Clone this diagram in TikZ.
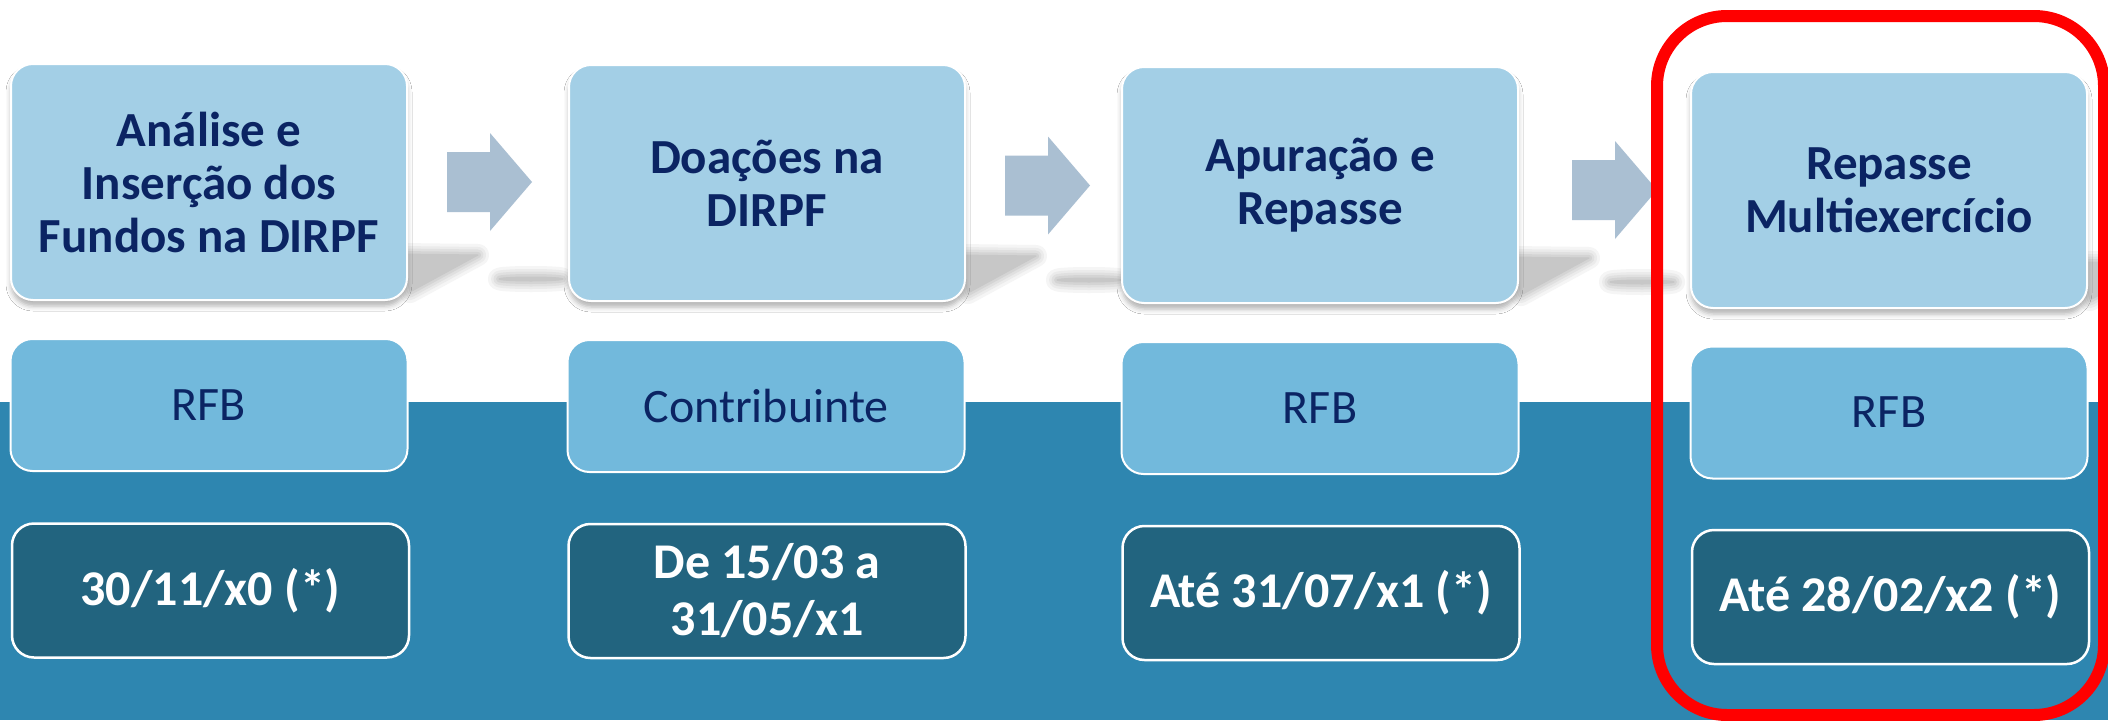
\documentclass[tikz,border=0pt]{standalone}
\usepackage{fontspec}
\setmainfont{Carlito}
\usetikzlibrary{shadows.blur}
\definecolor{topc}{HTML}{A3CFE6}
\definecolor{midc}{HTML}{72B9DC}
\definecolor{bandc}{HTML}{2E86B0}
\definecolor{botc}{HTML}{22647F}
\definecolor{arrc}{HTML}{AABFD2}
\definecolor{navy}{HTML}{0B2463}
\newcommand\blurfill[1]{\foreach \lw/\c in {22/4,16/8,11/12,6/17,1/22}{\filldraw[draw=black!\c,fill=black!\c,line width=\lw pt,line join=round] #1;}}
\begin{document}
\begin{tikzpicture}[x=1pt,y=-1pt,
 topbox/.style={fill=topc, draw=white, line width=2pt, rounded corners=22pt, minimum width=396pt, minimum height=236pt, inner sep=0pt, align=center, text=navy, font=\fontsize{49}{53}\selectfont\bfseries, blur shadow={shadow xshift=0pt, shadow yshift=-6pt, shadow opacity=30, shadow blur radius=5pt}},
 midbox/.style={fill=midc, draw=white, line width=2pt, rounded corners=22pt, minimum width=397pt, minimum height=132pt, inner sep=0pt, align=center, text=navy, font=\fontsize{48}{52}\selectfont},
 datebox/.style={fill=botc, draw=white, line width=2.5pt, rounded corners=22pt, minimum width=397pt, minimum height=134pt, inner sep=0pt, align=center, text=white, font=\fontsize{50}{57}\selectfont\bfseries},
 blockarrow/.style={fill=arrc},
 redframe/.style={draw=red, line width=12pt, rounded corners=70pt, minimum width=447pt, minimum height=699pt, inner sep=0pt}
]
\useasboundingbox (0,0) rectangle (2108,720);
\fill[white] (0,0) rectangle (2108,720);
\fill[bandc] (0,402) rectangle (2108,720);

% perspective shadows
\foreach \R/\B in {407/300,965/301,1518/303,2087/308}{
  \begin{scope}[shift={(\R,\B)}]
    \blurfill{(-5,-46) -- (71,-45) -- (3,-8) -- cycle}
    \blurfill{(124,-21) ellipse [x radius=32pt, y radius=2pt]}
  \end{scope}
}

% top boxes
\node[topbox] (t1) at (209,182) {Análise e\\Inserção dos\\Fundos na DIRPF};
\node[topbox] (t2) at (767,183) {Doações na\\DIRPF};
\node[topbox] (t3) at (1320,185) {Apuração e\\Repasse};
\node[topbox] (t4) at (1889,190) {Repasse\\Multiexercício};

% middle boxes
\node[midbox] (m1) at (209,405) {RFB};
\node[midbox] (m2) at (766,406) {Contribuinte};
\node[midbox] (m3) at (1320,408) {RFB};
\node[midbox] (m4) at (1889,412.5) {RFB};

% date boxes
\node[datebox] (b1) at (210.5,590.5) {30/11/x0 (*)};
\node[datebox] (b2) at (767,591) {De 15/03 a\\31/05/x1};
\node[datebox] (b3) at (1321,593) {Até 31/07/x1 (*)};
\node[datebox] (b4) at (1890.5,597) {Até 28/02/x2 (*)};

% block arrows
\foreach \ax/\ay in {447/182,1005/185.5,1572/190}{
  \fill[blockarrow, shift={(\ax,\ay)}] (0,-30) -- (43,-30) -- (43,-49) -- (85,0) -- (43,49) -- (43,30) -- (0,30) -- cycle;
}

% highlight frame
\node[redframe] (hl) at (1880.5,365.5) {};
\end{tikzpicture}
\end{document}
